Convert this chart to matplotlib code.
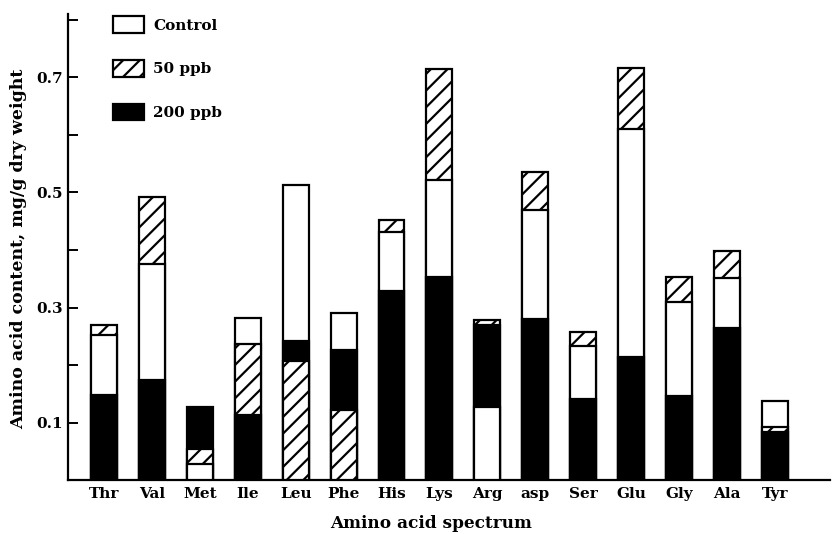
import matplotlib
matplotlib.use("Agg")
import matplotlib.pyplot as plt
import numpy as np

categories = ["Thr", "Val", "Met", "Ile", "Leu", "Phe", "His", "Lys", "Arg", "asp", "Ser", "Glu", "Gly", "Ala", "Tyr"]
control = [0.252, 0.376, 0.028, 0.282, 0.513, 0.290, 0.431, 0.522, 0.128, 0.470, 0.234, 0.611, 0.309, 0.351, 0.137]
ppb50   = [0.270, 0.492, 0.054, 0.237, 0.208, 0.122, 0.452, 0.715, 0.278, 0.535, 0.258, 0.716, 0.353, 0.399, 0.092]
ppb200  = [0.148, 0.174, 0.128, 0.113, 0.242, 0.227, 0.328, 0.354, 0.270, 0.280, 0.141, 0.215, 0.147, 0.264, 0.084]
yticks_major = [0.1, 0.3, 0.5, 0.7]
yticks_minor = [0.2, 0.4, 0.6, 0.8]

plt.rcParams['font.family'] = ['DejaVu Serif']
plt.rcParams['hatch.linewidth'] = 1.6

fig = plt.figure(figsize=(8.37, 5.34), dpi=100)
ax = fig.add_axes([68/837, 1 - 480.3/534, (830-68)/837, (480.3-14)/534])

x = np.arange(len(categories))
w = 0.54
series = [
    (control, dict(facecolor="white", hatch=None), "Control"),
    (ppb50, dict(facecolor="white", hatch="//"), "50 ppb"),
    (ppb200, dict(facecolor="black", hatch=None), "200 ppb"),
]
vals = np.array([control, ppb50, ppb200])
handles = []
for si, (data, style, label) in enumerate(series):
    bars = ax.bar(x, data, width=w, edgecolor="black", linewidth=1.6, label=label, **style)
    for ci, b in enumerate(bars):
        # taller bars behind, shorter in front
        rank = np.argsort(np.argsort(-vals[:, ci]))[si]
        b.set_zorder(2 + rank)
    handles.append(bars)

ax.set_xlim(-0.75, len(categories) - 1 + 1.15)
ax.set_ylim(0, 0.81)
ax.set_yticks(yticks_major)
ax.set_yticklabels([f"{v:.1f}" for v in yticks_major], fontsize=11, fontweight="bold")
ax.set_yticks(yticks_minor, minor=True)
ax.tick_params(axis="y", which="both", direction="in", length=7, width=1.4, pad=4)
ax.set_xticks(x)
ax.set_xticklabels(categories, fontsize=11, fontweight="bold")
ax.tick_params(axis="x", length=0, pad=5)

for s in ["top", "right"]:
    ax.spines[s].set_visible(False)
for s in ["left", "bottom"]:
    ax.spines[s].set_linewidth(1.6)

ax.set_xlabel("Amino acid spectrum", fontsize=12.2, fontweight="bold", labelpad=2)
ax.xaxis.set_label_coords((431-68)/(830-68), -0.075)
ax.set_ylabel("Amino acid content, mg/g dry weight", fontsize=12.5, fontweight="bold")
ax.yaxis.set_label_coords(-0.054, 0.497)

leg = ax.legend(handles=handles, loc="upper left", bbox_to_anchor=(0.041, 1.025),
                frameon=False, handlelength=2.0, handleheight=1.3,
                labelspacing=1.78, handletextpad=0.65,
                prop={"weight": "bold", "size": 11})

fig.savefig("out.png", dpi=100)
